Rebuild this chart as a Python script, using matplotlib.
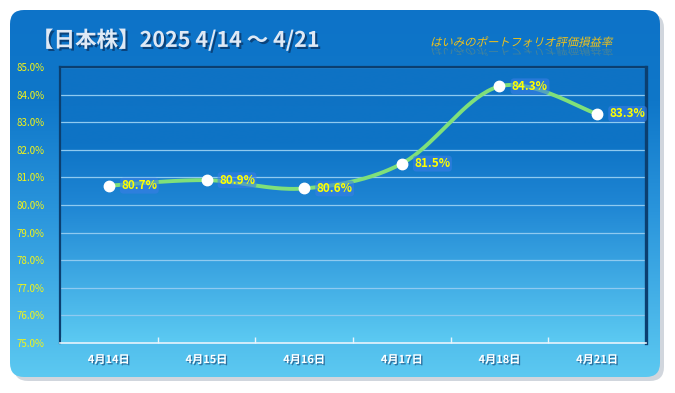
import numpy as np
import matplotlib
matplotlib.use("Agg")
import matplotlib.pyplot as plt
from matplotlib.patches import FancyBboxPatch, PathPatch
from matplotlib.textpath import TextPath
from matplotlib.font_manager import FontProperties
from matplotlib.transforms import Affine2D
import matplotlib.patheffects as pe
from matplotlib.colors import LinearSegmentedColormap

plt.rcParams['font.family'] = ['Noto Sans CJK JP', 'DejaVu Sans']

# ---- data ----
categories = ["4月14日", "4月15日", "4月16日", "4月17日", "4月18日", "4月21日"]
values = [80.7, 80.9, 80.6, 81.5, 84.3, 83.3]
y_ticks = [75, 76, 77, 78, 79, 80, 81, 82, 83, 84, 85]
title = "【日本株】2025 4/14 ～ 4/21"
subtitle = "はいみのポートフォリオ評価損益率"

W, H, DPI = 675, 393, 100
fig = plt.figure(figsize=(W / DPI, H / DPI), dpi=DPI)
fig.patch.set_facecolor('white')

# ---- background panel ----
bg = fig.add_axes([0, 0, 1, 1])
bg.set_xlim(0, W)
bg.set_ylim(0, H)
bg.axis('off')

px0, py0, px1, py1 = 10, 16, 660, 383  # panel in pixel coords (bottom-left origin)
shadow = FancyBboxPatch((px0 + 4, py0 - 4), px1 - px0, py1 - py0,
                        boxstyle="round,pad=0,rounding_size=14",
                        fc='#9aa6b4', ec='none', alpha=0.45, zorder=0)
bg.add_patch(shadow)
panel = FancyBboxPatch((px0, py0), px1 - px0, py1 - py0,
                       boxstyle="round,pad=0,rounding_size=14",
                       fc='none', ec='none', zorder=1)
bg.add_patch(panel)
cmap = LinearSegmentedColormap.from_list(
    'bgc', [(0.0, '#5cc9f1'), (0.45, '#2a95dc'), (0.75, '#0f77c9'), (1.0, '#0d73c8')])
grad = np.linspace(0, 1, 256).reshape(-1, 1)
im = bg.imshow(grad, extent=(px0, px1, py0, py1), origin='lower', cmap=cmap,
               aspect='auto', zorder=1, interpolation='bicubic')
im.set_clip_path(panel)

# title
bg.text(32, H - 40, title, fontsize=15.5, fontweight='bold', color='#dfe9f5',
        ha='left', va='center', zorder=5,
        path_effects=[pe.SimplePatchShadow(offset=(1.5, -1.5), shadow_rgbFace='#0a2f5c', alpha=0.7),
                      pe.Normal()])

# subtitle with italic skew and reflection
fp = FontProperties(family='Noto Sans CJK JP', size=8.2)
tp = TextPath((0, 0), subtitle, prop=fp)
sc = DPI / 72.0
sx, sy = 430, H - 46
t_main = Affine2D().scale(sc).skew_deg(14, 0).translate(sx, sy)
bg.add_patch(PathPatch(t_main.transform_path(tp), fc='#f2c218', ec='none', zorder=5))
t_ref = Affine2D().scale(sc, -sc * 0.8).skew_deg(-14, 0).translate(sx, sy - 2)
bg.add_patch(PathPatch(t_ref.transform_path(tp), fc='#c9a830', ec='none', alpha=0.3, zorder=5))

# ---- plot area ----
L, R, T, B = 60, 646, 67, 343
ax = fig.add_axes([L / W, 1 - B / H, (R - L) / W, (B - T) / H])
ax.set_facecolor('none')
n = len(categories)
x = np.arange(n)
ax.set_xlim(-0.5, n - 0.5)
ax.set_ylim(y_ticks[0], y_ticks[-1])

cmap2 = LinearSegmentedColormap.from_list(
    'pa', [(0.0, '#5ccaf2'), (0.5, '#1f86d4'), (0.72, '#0e74c6'), (1.0, '#0e72c4')])
ax.imshow(grad, extent=(-0.5, n - 0.5, y_ticks[0], y_ticks[-1]), origin='lower',
          cmap=cmap2, aspect='auto', zorder=0, interpolation='bicubic')

for yv in y_ticks[1:]:
    ax.axhline(yv, color='#8fcaf0', lw=0.9, zorder=1)

for s in ['left', 'right', 'top']:
    ax.spines[s].set_color('#0b3f70')
    ax.spines[s].set_linewidth(1.6)
ax.spines['right'].set_linewidth(2.4)
ax.spines['bottom'].set_color('#e8f4fc')
ax.spines['bottom'].set_linewidth(1.2)

ax.set_yticks(y_ticks)
ax.set_yticklabels([f"{v:.1f}%" for v in y_ticks], fontsize=7, color='#f5f514')
ax.tick_params(axis='y', length=0, pad=11)
ax.set_xticks(np.arange(n + 1) - 0.5, minor=False)
ax.set_xticklabels([])
ax.tick_params(axis='x', direction='in', length=4, color='#e8f4fc', width=1)
for i, c in enumerate(categories):
    ax.text(i, -0.06, c, transform=ax.get_xaxis_transform(), ha='center', va='center',
            fontsize=8, fontweight='bold', color='white', zorder=5,
            path_effects=[pe.SimplePatchShadow(offset=(1, -1), shadow_rgbFace='#1a4f80', alpha=0.7),
                          pe.Normal()])

# Excel-like smoothing (Catmull-Rom / cubic Bezier)
xs, ys = [], []
P = np.column_stack([x, values]).astype(float)
tt = np.linspace(0, 1, 40)
for i in range(n - 1):
    p0 = P[max(i - 1, 0)]
    p1 = P[i]
    p2 = P[i + 1]
    p3 = P[min(i + 2, n - 1)]
    c1 = p1 + (p2 - p0) / 6.0
    c2 = p2 - (p3 - p1) / 6.0
    b = ((1 - tt) ** 3)[:, None] * p1 + (3 * (1 - tt) ** 2 * tt)[:, None] * c1 \
        + (3 * (1 - tt) * tt ** 2)[:, None] * c2 + (tt ** 3)[:, None] * p2
    xs.extend(b[:, 0]); ys.extend(b[:, 1])
ax.plot(xs, ys, color='#7fe07a', lw=2.8, zorder=3, solid_capstyle='round')
ax.plot(x, values, 'o', color='white', ms=7.5, mec='white', zorder=4)

for xi, v in zip(x, values):
    ax.annotate(f"{v:.1f}%", (xi, v), xytext=(9, 0), textcoords='offset points',
                ha='left', va='center', fontsize=8.5, fontweight='bold', color='#ffff00',
                zorder=6, bbox=dict(boxstyle='round,pad=0.12,rounding_size=0.3',
                                    fc='#3a7ee6', ec='none', alpha=0.6))

fig.savefig('out.png', dpi=DPI)
